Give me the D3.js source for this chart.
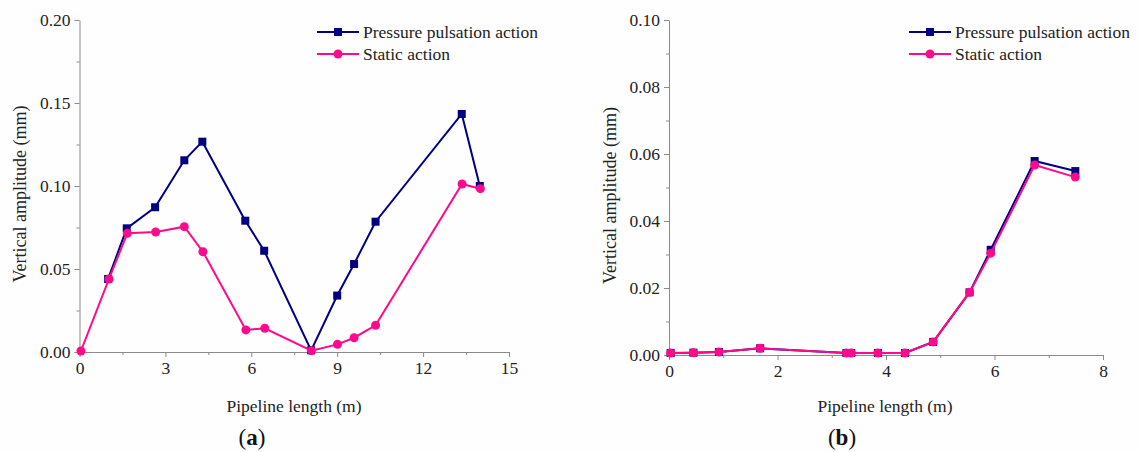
<!DOCTYPE html>
<html>
<head>
<meta charset="utf-8">
<script src="https://cdn.jsdelivr.net/npm/d3@7"></script>
<style>
  body { margin: 0; background: #fff; }
  svg { display: block; font-family: "Liberation Serif", "DejaVu Serif", serif; }
  .axis path, .axis line { stroke: #8a8a8a; }
  .axis text { font-size: 17.5px; fill: #222; font-family: "Liberation Serif", serif; }
</style>
</head>
<body>
<div class="chart"></div>
<script>
// chart (a)
var aPulseX = [1.0, 1.65, 2.64, 3.66, 4.29, 5.79, 6.45, 8.09, 9.0, 9.59, 10.34, 13.35, 13.98];
var aPulseY = [0.044, 0.0745, 0.0872, 0.1155, 0.1267, 0.0791, 0.061, 0.001, 0.034, 0.053, 0.0785, 0.1434, 0.100];
var aStaticX = [0.05, 1.03, 1.67, 2.66, 3.66, 4.31, 5.81, 6.47, 8.1, 9.01, 9.59, 10.34, 13.36, 14.0];
var aStaticY = [0.0006, 0.044, 0.0715, 0.0723, 0.0755, 0.0604, 0.0133, 0.0143, 0.0008, 0.0046, 0.0086, 0.0161, 0.1012, 0.0984];
var aXTicks = [0, 3, 6, 9, 12, 15];
var aYTicks = [0, 0.05, 0.10, 0.15, 0.20];

// chart (b)
var bX = [0.03, 0.45, 0.92, 1.68, 3.27, 3.36, 3.85, 4.35, 4.87, 5.54, 5.93, 6.74, 7.49];
var bPulseY = [0.0006, 0.0007, 0.0009, 0.002, 0.0006, 0.0006, 0.0006, 0.0006, 0.0039, 0.0187, 0.0314, 0.0579, 0.0549];
var bStaticY = [0.0006, 0.0007, 0.0009, 0.002, 0.0006, 0.0006, 0.0006, 0.0006, 0.0039, 0.0187, 0.0304, 0.0567, 0.0531];
var bXTicks = [0, 2, 4, 6, 8];
var bYTicks = [0, 0.02, 0.04, 0.06, 0.08, 0.10];

var seriesNames = ["Pressure pulsation action", "Static action"];
var blue = "#000080", pink = "#ff0a8c";

var svg = d3.select(".chart").append("svg")
    .attr("width", 1138)
    .attr("height", 452);

svg.append("rect").attr("width", 1138).attr("height", 452).attr("fill", "#fefefe");

function zip(xs, ys) {
    return xs.map(function(d, i) { return {x: d, y: ys[i]}; });
}

function drawPanel(opt) {
    var x = d3.scaleLinear().domain(opt.xDomain).range(opt.xRange);
    var y = d3.scaleLinear().domain(opt.yDomain).range(opt.yRange);
    var g = svg.append("g");

    // minor ticks halfway between the labelled ones
    var xMinor = [], yMinor = [];
    for (var i = 0; i < opt.xTicks.length - 1; i++) xMinor.push((opt.xTicks[i] + opt.xTicks[i + 1]) / 2);
    for (var j = 0; j < opt.yTicks.length - 1; j++) yMinor.push((opt.yTicks[j] + opt.yTicks[j + 1]) / 2);

    g.append("g").attr("class", "axis")
        .attr("transform", "translate(0," + opt.yRange[0] + ")")
        .call(d3.axisBottom(x).tickValues(xMinor).tickSize(3).tickFormat(""))
        .select(".domain").remove();
    g.append("g").attr("class", "axis")
        .attr("transform", "translate(" + opt.xRange[0] + ",0)")
        .call(d3.axisLeft(y).tickValues(yMinor).tickSize(3).tickFormat(""))
        .select(".domain").remove();

    g.append("g").attr("class", "axis")
        .attr("transform", "translate(0," + opt.yRange[0] + ")")
        .call(d3.axisBottom(x).tickValues(opt.xTicks).tickSize(5).tickSizeOuter(0).tickPadding(5).tickFormat(d3.format("d")));
    g.append("g").attr("class", "axis")
        .attr("transform", "translate(" + opt.xRange[0] + ",0)")
        .call(d3.axisLeft(y).tickValues(opt.yTicks).tickSize(5).tickSizeOuter(0).tickPadding(4).tickFormat(d3.format(".2f")));

    // axis titles
    g.append("text")
        .attr("transform", "translate(" + opt.yLabelX + "," + ((opt.yRange[0] + opt.yRange[1]) / 2 + 8) + ")rotate(-90)")
        .attr("text-anchor", "middle")
        .attr("dy", "0.35em")
        .attr("font-size", 18)
        .attr("fill", "#222")
        .text("Vertical amplitude (mm)");
    g.append("text")
        .attr("x", opt.xLabelX).attr("y", 412)
        .attr("text-anchor", "middle")
        .attr("font-size", 17.5)
        .attr("fill", "#222")
        .text("Pipeline length (m)");
    var cap = g.append("text")
        .attr("x", opt.capX).attr("y", 445)
        .attr("text-anchor", "middle")
        .attr("font-size", 23)
        .attr("fill", "#111");
    cap.append("tspan").text("(");
    cap.append("tspan").attr("font-weight", "bold").text(opt.cap);
    cap.append("tspan").text(")");

    var line = d3.line().x(function(d) { return x(d.x); }).y(function(d) { return y(d.y); });

    // pulsation series
    g.append("path").datum(opt.pulse)
        .attr("fill", "none").attr("stroke", blue).attr("stroke-width", 2)
        .attr("d", line);
    g.selectAll(".sq").data(opt.pulse).enter().append("rect")
        .attr("x", function(d) { return x(d.x) - 4; })
        .attr("y", function(d) { return y(d.y) - 4; })
        .attr("width", 8).attr("height", 8)
        .attr("fill", blue);

    // static series
    g.append("path").datum(opt.stat)
        .attr("fill", "none").attr("stroke", pink).attr("stroke-width", 2)
        .attr("d", line);
    g.selectAll(".ci").data(opt.stat).enter().append("circle")
        .attr("cx", function(d) { return x(d.x); })
        .attr("cy", function(d) { return y(d.y); })
        .attr("r", 4.5)
        .attr("fill", pink);

    // legend
    var lg = g.append("g").attr("transform", "translate(" + opt.legendX + ",32)");
    seriesNames.forEach(function(name, k) {
        var c = k === 0 ? blue : pink;
        var row = lg.append("g").attr("transform", "translate(0," + (k * 22) + ")");
        row.append("line").attr("x1", 0).attr("x2", 42).attr("stroke", c).attr("stroke-width", 2);
        if (k === 0) row.append("rect").attr("x", 17).attr("y", -4).attr("width", 8).attr("height", 8).attr("fill", c);
        else row.append("circle").attr("cx", 21).attr("r", 4.5).attr("fill", c);
        row.append("text").attr("x", 46).attr("dy", "0.35em")
            .attr("font-size", 17.5).attr("fill", "#222").text(name);
    });
}

drawPanel({
    xDomain: [0, 15], xRange: [79.5, 509],
    yDomain: [0, 0.20], yRange: [352, 20],
    xTicks: aXTicks, yTicks: aYTicks,
    pulse: zip(aPulseX, aPulseY), stat: zip(aStaticX, aStaticY),
    yLabelX: 20, xLabelX: 294, capX: 252, cap: "a", legendX: 317
});

drawPanel({
    xDomain: [0, 8], xRange: [669, 1103],
    yDomain: [0, 0.10], yRange: [355, 20],
    xTicks: bXTicks, yTicks: bYTicks,
    pulse: zip(bX, bPulseY), stat: zip(bX, bStaticY),
    yLabelX: 610, xLabelX: 885, capX: 842, cap: "b", legendX: 909
});
</script>
</body>
</html>
